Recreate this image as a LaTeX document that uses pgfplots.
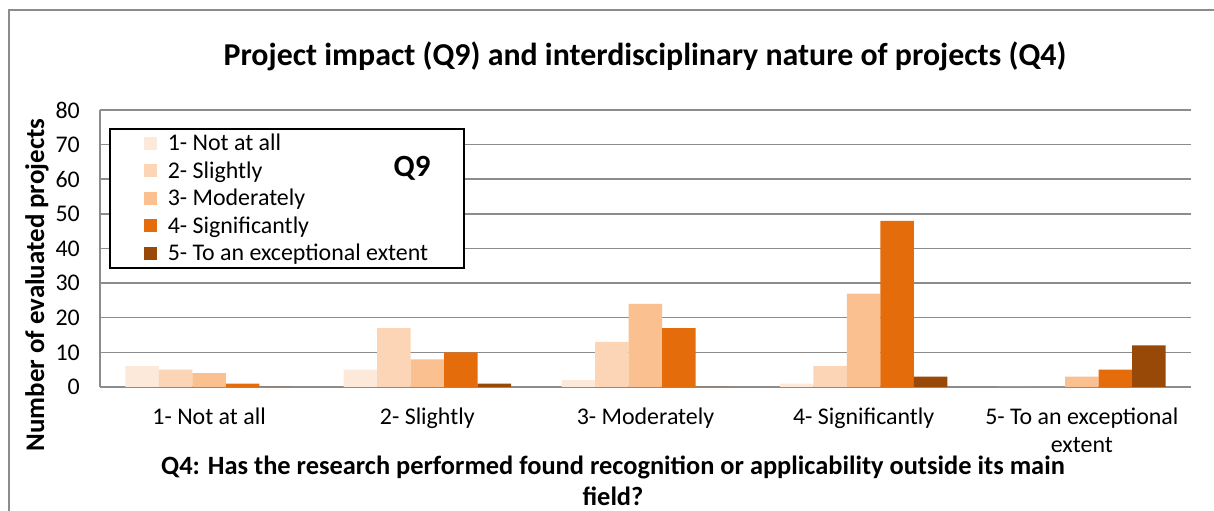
\documentclass[border=0pt]{standalone}
\usepackage{pgfplots}
\pgfplotsset{compat=1.18}
\usepackage{fontspec}
\setmainfont{Carlito}

\definecolor{c1}{HTML}{FCE9DA}
\definecolor{c2}{HTML}{FBD5B5}
\definecolor{c3}{HTML}{FAC090}
\definecolor{c4}{HTML}{E46C0A}
\definecolor{c5}{HTML}{984807}
\definecolor{gridgray}{HTML}{8C8C8C}

\pgfplotsset{
  sq/.style={fill=#1, draw=none,
    legend image code/.code={\fill[#1] (-10bp,-6.5bp) rectangle (3bp,6.5bp);}},
}

\begin{document}
\begin{tikzpicture}[x=1bp,y=1bp]
\useasboundingbox (0,0) rectangle (1214,511);
% chart frame (only left and top edges are inside the image)
\draw[gridgray, line width=1.5bp] (9,-5) -- (9,501) -- (1220,501);

\begin{axis}[
    at={(100bp,124bp)}, anchor=south west,
    scale only axis,
    width=1091bp, height=277bp,
    ybar=0pt, bar width=33.5bp,
    xmin=0.5, xmax=5.5,
    ymin=0, ymax=80,
    ytick={0,10,...,80},
    xtick={1,2,3,4,5},
    xticklabels={1- Not at all, 2- Slightly, 3- Moderately, 4- Significantly, {5- To an exceptional\\extent}},
    major tick length=0pt,
    axis x line*=bottom, axis y line*=left,
    axis line style={gridgray, line width=1.5bp},
    ymajorgrids, grid style={gridgray, line width=1.5bp},
    /pgf/number format/assume math mode=true,
    tick label style={font=\fontsize{24}{28}\selectfont, inner sep=0pt},
    yticklabel style={xshift=-20bp},
    xticklabel style={align=center, yshift=-21bp},
    legend cell align=left,
    legend style={at={(axis description cs:0.0083,0.935)}, anchor=north west,
      draw=black, line width=1.5bp, font=\fontsize{24}{28}\selectfont,
      inner xsep=34bp, inner ysep=3.5bp, row sep=5.4bp, column sep=9bp},
]
\addplot[sq=c1] coordinates {(1,6) (2,5) (3,2) (4,1) (5,0)};
\addplot[sq=c2] coordinates {(1,5) (2,17) (3,13) (4,6) (5,0)};
\addplot[sq=c3] coordinates {(1,4) (2,8) (3,24) (4,27) (5,3)};
\addplot[sq=c4] coordinates {(1,1) (2,10) (3,17) (4,48) (5,5)};
\addplot[sq=c5] coordinates {(1,0) (2,1) (3,0) (4,3) (5,12)};
\legend{1- Not at all, 2- Slightly, 3- Moderately, 4- Significantly, 5- To an exceptional extent}
\end{axis}

\node[font=\fontsize{32}{36}\selectfont\bfseries] at (645,455) {Project impact (Q9) and interdisciplinary nature of projects (Q4)};
\node[font=\fontsize{27}{30}\selectfont\bfseries, rotate=90] at (37,226) {Number of evaluated projects};
\node[font=\fontsize{31}{34}\selectfont\bfseries] at (412,343) {Q9};
\node[font=\fontsize{26.5}{31}\selectfont\bfseries, align=center] at (613,30) {Q4: Has the research performed found recognition or applicability outside its main\\field?};
\end{tikzpicture}
\end{document}
